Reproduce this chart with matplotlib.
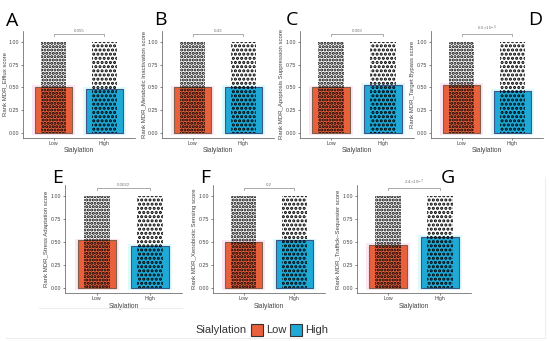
import matplotlib
matplotlib.use("Agg")
import matplotlib.pyplot as plt
from matplotlib.lines import Line2D
from matplotlib.patches import Rectangle

# ---- data ----
GROUPS = ["Low", "High"]
PANEL_LETTERS = ["A", "B", "C", "D", "E", "F", "G"]
SCORE_NAMES = [
    "Efflux", "Metabolic Inactivation", "Apoptosis Suppression", "Target Bypass",
    "Stress Adaptation", "Xenobiotic Sensing", "Traffick\u2013Sequester",
]
MEAN_LOW = [0.51, 0.50, 0.50, 0.53, 0.52, 0.50, 0.47]
MEAN_HIGH = [0.48, 0.51, 0.53, 0.46, 0.46, 0.52, 0.56]
P_LABELS = ["0.055", "0.43", "0.003", "6.6\u00d710$^{-5}$",
            "0.0022", "0.2", "2.4\u00d710$^{-7}$"]
SCORE_MIN, SCORE_MAX = 0.0, 1.0          # rank scores span 0..1
Y_TICKS = [0.00, 0.25, 0.50, 0.75, 1.00]

# ---- style ----
W, H = 550, 341
FILL = {"Low": "#E8603C", "High": "#1FA9D6"}
EDGE = {"Low": "#7E6148", "High": "#3C5488"}
HALO = {"Low": "#FCE6F4", "High": "#DDFBFB"}
DOTS = {"Low": ".....", "High": "...."}   # dense jitter cloud drawn as a dot texture
GREY = "#555555"

# axes boxes in pixels: left, top, right, bottom
BOXES = [
    (23, 31, 135, 137.5), (162, 31, 274, 137.5),
    (300, 31, 414, 137.5), (431, 31, 543, 137.5),
    (65, 185, 182, 293), (213, 185, 325, 293), (357, 185, 471, 293),
]
LETTER_POS = [(12, 21), (160, 20), (292, 20), (535, 20),
              (58, 178), (205, 178), (448, 178)]

plt.rcParams["font.family"] = ["Liberation Sans", "DejaVu Sans"]
plt.rcParams["hatch.linewidth"] = 1.5

fig = plt.figure(figsize=(W / 100, H / 100), dpi=100)
fig.patch.set_facecolor("white")

for i, (l, t, r, b) in enumerate(BOXES):
    ax = fig.add_axes([l / W, 1 - b / H, (r - l) / W, (b - t) / H])
    means = [MEAN_LOW[i], MEAN_HIGH[i]]
    xs = [1, 2]
    for x, g, m in zip(xs, GROUPS, means):
        ax.bar(x, m + 0.04, bottom=-0.02, width=0.84, color=HALO[g], lw=0, zorder=0.5)
        ax.bar(x, m, width=0.72, color=FILL[g], edgecolor=EDGE[g], lw=0.8, zorder=1)
        ax.bar(x, SCORE_MAX - SCORE_MIN, bottom=SCORE_MIN, width=0.5,
               facecolor="none", edgecolor="black", lw=0, hatch=DOTS[g], zorder=3)

    # significance bracket
    yb = 1.085
    ax.plot([1, 1, 2, 2], [yb - 0.02, yb, yb, yb - 0.02], color="#888888", lw=0.5,
            clip_on=False, zorder=4)
    ax.text(1.5, yb + 0.012, P_LABELS[i], ha="center", va="bottom", fontsize=3.2,
            color="#777777")

    ax.set_xlim(0.4, 2.6)
    ax.set_ylim(-0.05, 1.12)
    ax.set_xticks(xs)
    ax.set_xticklabels(GROUPS)
    ax.set_yticks(Y_TICKS)
    ax.set_yticklabels([f"{v:.2f}" for v in Y_TICKS])
    ax.spines["top"].set_visible(False)
    ax.spines["right"].set_visible(False)
    for s in ("left", "bottom"):
        ax.spines[s].set_color(GREY)
        ax.spines[s].set_linewidth(0.5)
    ax.tick_params(length=1.5, width=0.5, color=GREY, labelsize=3.8,
                   labelcolor="#444444", pad=1)
    ax.set_xlabel("Sialylation", fontsize=4.8, color="#444444", labelpad=1)
    ax.set_ylabel(f"Rank MDR_{SCORE_NAMES[i]} score", fontsize=4.3,
                  color="#444444", labelpad=1.5)
    ax.patch.set_alpha(0)

    lx, ly = LETTER_POS[i]
    fig.text(lx / W, 1 - ly / H, PANEL_LETTERS[i], fontsize=14, ha="center",
             va="center", family=["Open Sans", "DejaVu Sans"])

# shared legend drawn at the bottom
fig.text(247 / W, 1 - 330 / H, "Sialylation", fontsize=8, ha="right", va="center",
         color="#333333")
for g, x0, tx in [("Low", 251, 266), ("High", 290, 305)]:
    fig.add_artist(Rectangle((x0 / W, 1 - 336 / H), 12 / W, 12 / H,
                             transform=fig.transFigure, facecolor=FILL[g],
                             edgecolor="#333333", lw=0.8))
    fig.text(tx / W, 1 - 330 / H, g, fontsize=8, ha="left", va="center",
             color="#333333")

# faint frame lines from the composite
for xs_, ys_ in [([0.01, 0.99], [1 - 338 / H, 1 - 338 / H]),
                 ([0.07, 0.33], [1 - 308 / H, 1 - 308 / H]),
                 ([545 / W, 545 / W], [0.01, 0.48])]:
    fig.add_artist(Line2D(xs_, ys_, transform=fig.transFigure, color="#EEEEEE", lw=0.8))

fig.savefig("out.png", dpi=100)
